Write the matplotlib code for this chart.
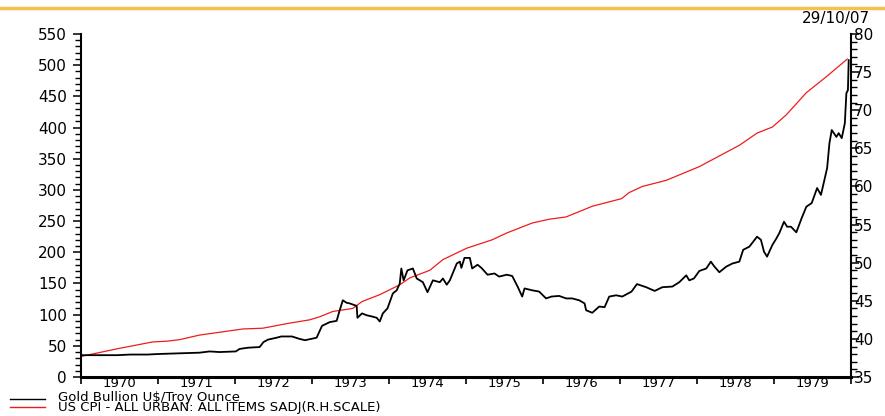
import numpy as np
import matplotlib
matplotlib.use("Agg")
import matplotlib.pyplot as plt
from matplotlib.lines import Line2D
from matplotlib.ticker import MultipleLocator, FixedLocator, NullFormatter

# gold bullion, US$/troy ounce
gold_t = [1970.00, 1970.25, 1970.47, 1970.64, 1970.86, 1971.03, 1971.28, 1971.54, 1971.67, 1971.80,
          1972.01, 1972.06, 1972.17, 1972.32, 1972.37, 1972.43, 1972.54, 1972.60, 1972.74, 1972.84,
          1972.91, 1973.06, 1973.13, 1973.23, 1973.32, 1973.36, 1973.40, 1973.45, 1973.49, 1973.58,
          1973.59, 1973.65, 1973.71, 1973.78, 1973.84, 1973.88, 1973.92, 1973.98, 1974.05, 1974.10,
          1974.14, 1974.16, 1974.19, 1974.24, 1974.31, 1974.36, 1974.44, 1974.50, 1974.57, 1974.66,
          1974.70, 1974.75, 1974.79, 1974.88, 1974.92, 1974.94, 1974.98, 1975.05, 1975.08, 1975.15,
          1975.20, 1975.28, 1975.37, 1975.43, 1975.53, 1975.60, 1975.67, 1975.73, 1975.76, 1975.86,
          1975.95, 1976.04, 1976.11, 1976.21, 1976.30, 1976.38, 1976.47, 1976.54, 1976.56, 1976.64,
          1976.73, 1976.80, 1976.86, 1976.95, 1977.03, 1977.15, 1977.22, 1977.34, 1977.45, 1977.55,
          1977.68, 1977.77, 1977.86, 1977.90, 1977.96, 1978.03, 1978.12, 1978.18, 1978.22, 1978.29,
          1978.38, 1978.46, 1978.55, 1978.60, 1978.68, 1978.78, 1978.83, 1978.87, 1978.91, 1978.98,
          1979.03, 1979.07, 1979.13, 1979.17, 1979.22, 1979.29, 1979.36, 1979.42, 1979.49, 1979.56,
          1979.61, 1979.66, 1979.69, 1979.72, 1979.75, 1979.81, 1979.84, 1979.88, 1979.92, 1979.94,
          1979.96, 1979.97]
gold_v = [35, 35, 35, 36, 36, 37, 38, 39, 41, 40,
          41, 45, 47, 48, 56, 60, 63, 65, 65, 61,
          59, 63, 82, 88, 90, 107, 123, 119, 118, 114,
          95, 102, 99, 97, 95, 89, 102, 110, 134, 139,
          150, 174, 155, 171, 174, 158, 152, 136, 155, 152,
          158, 148, 155, 182, 185, 175, 191, 191, 174, 180,
          175, 164, 166, 161, 164, 162, 145, 129, 142, 139,
          137, 126, 129, 130, 126, 126, 123, 118, 107, 103,
          113, 112, 129, 131, 129, 137, 149, 144, 138, 144,
          145, 152, 163, 155, 158, 170, 174, 185, 178, 168,
          177, 182, 185, 204, 209, 225, 220, 201, 193, 212,
          222, 231, 249, 241, 241, 232, 255, 273, 279, 303,
          292, 319, 335, 375, 396, 385, 391, 383, 407, 455,
          460, 508]

# US CPI all urban, all items, seasonally adjusted (right scale)
cpi_t = [1970.00, 1970.47, 1970.93, 1971.12, 1971.28, 1971.54, 1972.10, 1972.36, 1972.67, 1972.97,
         1973.10, 1973.27, 1973.53, 1973.65, 1973.88, 1974.14, 1974.27, 1974.53, 1974.70, 1975.01,
         1975.34, 1975.53, 1975.86, 1976.08, 1976.30, 1976.64, 1977.02, 1977.12, 1977.29, 1977.60,
         1978.03, 1978.29, 1978.55, 1978.78, 1978.98, 1979.16, 1979.42, 1979.68, 1979.95]
cpi_v = [37.7, 38.7, 39.6, 39.7, 39.9, 40.5, 41.3, 41.4, 42.0, 42.5,
         42.9, 43.6, 44.0, 44.9, 45.8, 47.1, 48.0, 49.0, 50.4, 51.9,
         53.0, 53.9, 55.2, 55.7, 56.0, 57.4, 58.4, 59.2, 60.0, 60.8,
         62.6, 64.0, 65.4, 67.0, 67.8, 69.4, 72.3, 74.4, 76.7]

years = list(range(1970, 1980))
labels = ['Gold Bullion U$/Troy Ounce', 'US CPI - ALL URBAN: ALL ITEMS SADJ(R.H.SCALE)']
colors = ['black', '#ee1c1c']
fs = 11
H = 416

plt.rcParams['font.family'] = ['DejaVu Sans']

fig = plt.figure(figsize=(8.85, 4.16), dpi=100)
ax = fig.add_axes([81/885, 39/H, 770/885, 343/H])
ax2 = ax.twinx()

ax.plot(gold_t, gold_v, color=colors[0], lw=1.3, zorder=3)
ax2.plot(cpi_t, cpi_v, color=colors[1], lw=0.9)
ax.set_zorder(ax2.get_zorder() + 1)
ax.patch.set_visible(False)

ax.set_xlim(1970, 1980)
ax.set_ylim(0, 550)
ax2.set_ylim(35, 80)

ax.yaxis.set_major_locator(MultipleLocator(50))
ax.yaxis.set_minor_locator(MultipleLocator(10))
ax2.yaxis.set_major_locator(MultipleLocator(5))
ax2.yaxis.set_minor_locator(MultipleLocator(1))

# year boundaries get ticks, labels sit in the middle of each year
ax.xaxis.set_major_locator(FixedLocator(years + [1980]))
ax.xaxis.set_major_formatter(NullFormatter())
ax.xaxis.set_minor_locator(FixedLocator([y + 0.5 for y in years]))
ax.set_xticklabels([str(y) for y in years], minor=True)
ax.tick_params(axis='x', which='major', length=5, width=1.2, direction='out')
ax.tick_params(axis='x', which='minor', length=0, pad=0, labelsize=9.5)

ax.tick_params(axis='y', which='major', length=6, width=1.1, labelsize=fs, pad=4)
ax.tick_params(axis='y', which='minor', length=4, width=1.0)
ax2.tick_params(axis='y', which='major', length=6, width=1.1, labelsize=fs, pad=-4)
ax2.tick_params(axis='y', which='minor', length=4, width=1.0)

for a in (ax, ax2):
    a.spines['top'].set_visible(False)
ax.spines['left'].set_linewidth(1.5)
ax.spines['bottom'].set_linewidth(2.2)
ax2.spines['right'].set_linewidth(1.5)
ax.spines['right'].set_visible(False)
ax2.spines['left'].set_visible(False)
ax2.spines['bottom'].set_visible(False)

# yellow rule across the top
fig.add_artist(Line2D([0, 1], [1 - 8/H, 1 - 8/H], color='#f2c14e', lw=2.5,
                      transform=fig.transFigure))
fig.text(870/885, 1 - 18/H, '29/10/07', ha='right', va='center', fontsize=fs)

# legend block just under the year labels
fig.canvas.draw()
r = fig.canvas.get_renderer()
lab_bottom = min(t.get_window_extent(r).y0 for t in ax.get_xticklabels(minor=True))
leg = fig.text(58/885, (lab_bottom - 0.5)/H, '\n'.join(labels), ha='left', va='top',
               fontsize=9.5, linespacing=0.7)
bb = leg.get_window_extent(r)
step = (bb.height - 9.5*100/72*1.164) 
for i in range(2):
    yl = (bb.y1 - 8.5 - step*i)/H
    fig.add_artist(Line2D([10/885, 45/885], [yl, yl], color=colors[i], lw=1.0,
                          transform=fig.transFigure))

fig.savefig('out.png', dpi=100)
